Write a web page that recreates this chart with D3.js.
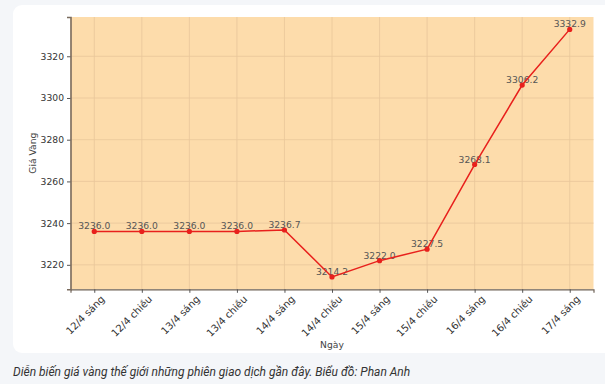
<!DOCTYPE html>
<html>
<head>
<meta charset="utf-8">
<script src="https://cdn.jsdelivr.net/npm/d3@7"></script>
<style>
  html, body { margin: 0; padding: 0; background: #f4f6f9; }
  svg { display: block; }
  .caption { font-family: Roboto, sans-serif; font-style: italic; font-size: 12px; fill: #333; }
  .tick text { font-family: "DejaVu Sans", sans-serif; font-size: 9.2px; fill: #333; }
  .x-axis .tick text { font-size: 10px; }
  .axis-title { font-family: "DejaVu Sans", sans-serif; font-size: 9.2px; fill: #444; }
  .point-label { font-family: "DejaVu Sans", sans-serif; font-size: 9.2px; fill: #555; }
</style>
</head>
<body>
<div id="chart"></div>
<script>
// sessions (x categories) and world gold price
const sessions = ["12/4 sáng", "12/4 chiều", "13/4 sáng", "13/4 chiều", "14/4 sáng", "14/4 chiều",
                  "15/4 sáng", "15/4 chiều", "16/4 sáng", "16/4 chiều", "17/4 sáng"]
const prices = [3236.0, 3236.0, 3236.0, 3236.0, 3236.7, 3214.2, 3222.0, 3227.5, 3268.1, 3306.2, 3332.9]
const yTicks = [3220, 3240, 3260, 3280, 3300, 3320]

const caption = "Diễn biến giá vàng thế giới những phiên giao dịch gần đây. Biểu đồ: Phan Anh"

const width = 605
const height = 384
const plot = {left: 70.5, right: 593.5, top: 17, bottom: 289.3}

const data = sessions.map((s, i) => ({session: s, i: i, value: prices[i]}))

const svg = d3.select("#chart")
  .append("svg")
  .attr("width", width)
  .attr("height", height)

// white card behind the chart
svg.append("rect")
  .attr("x", 13)
  .attr("y", 5)
  .attr("width", 610)
  .attr("height", 348)
  .attr("rx", 9)
  .attr("fill", "#ffffff")

// *************************************
// Scales (5% padding like matplotlib)
// *************************************
const x = d3.scaleLinear()
  .domain([-0.5, sessions.length - 0.5])
  .range([plot.left, plot.right])

const [minV, maxV] = d3.extent(prices)
const pad = (maxV - minV) * 0.05
const y = d3.scaleLinear()
  .domain([minV - pad, maxV + pad])
  .range([plot.bottom, plot.top])

// plot background
svg.append("rect")
  .attr("x", plot.left)
  .attr("y", plot.top)
  .attr("width", plot.right - plot.left)
  .attr("height", plot.bottom - plot.top)
  .attr("fill", "#fddcab")

// grid
const grid = svg.append("g")
grid.selectAll("line.vg")
  .data(d3.range(sessions.length))
  .join("line")
  .attr("x1", d => x(d)).attr("x2", d => x(d))
  .attr("y1", plot.top).attr("y2", plot.bottom)
  .attr("stroke", "#e9c79a")
  .attr("stroke-width", 0.8)
grid.selectAll("line.hg")
  .data(yTicks)
  .join("line")
  .attr("x1", plot.left).attr("x2", plot.right)
  .attr("y1", d => y(d)).attr("y2", d => y(d))
  .attr("stroke", "#e9c79a")
  .attr("stroke-width", 0.8)

// *************************************
// Axes
// *************************************
const xAxis = svg.append("g")
  .attr("class", "x-axis")
  .attr("transform", `translate(0,${plot.bottom})`)
  .call(d3.axisBottom(x)
    .tickValues(d3.range(sessions.length))
    .tickFormat(i => sessions[i])
    .tickSizeOuter(0)
    .tickSize(3.5)
    .tickPadding(4))
xAxis.select(".domain").attr("stroke", "#6e6257").attr("stroke-width", 1.2)
xAxis.selectAll(".tick line").attr("stroke", "#555")
xAxis.selectAll(".tick text")
  .attr("text-anchor", "end")
  .attr("dy", "0.6em")
  .attr("transform", "translate(1,1) rotate(-45)")

const yAxis = svg.append("g")
  .attr("transform", `translate(${plot.left},0)`)
  .call(d3.axisLeft(y)
    .tickValues(yTicks)
    .tickFormat(d3.format("d"))
    .tickSizeOuter(0)
    .tickSize(3.5)
    .tickPadding(3))
yAxis.select(".domain").attr("stroke", "#7a6b5e").attr("stroke-width", 1.6)
yAxis.selectAll(".tick line").attr("stroke", "#555")

svg.append("text")
  .attr("class", "axis-title")
  .attr("x", (plot.left + plot.right) / 2)
  .attr("y", 348)
  .attr("text-anchor", "middle")
  .text("Ngày")

svg.append("text")
  .attr("class", "axis-title")
  .attr("transform", `translate(36,${(plot.top + plot.bottom) / 2}) rotate(-90)`)
  .attr("text-anchor", "middle")
  .text("Giá Vàng")

// *************************************
// Point labels, line and markers
// *************************************
svg.append("g")
  .selectAll("text")
  .data(data)
  .join("text")
  .attr("class", "point-label")
  .attr("x", d => x(d.i))
  .attr("y", d => y(d.value) - 2)
  .attr("text-anchor", "middle")
  .text(d => d.value.toFixed(1))

const line = d3.line()
  .x(d => x(d.i))
  .y(d => y(d.value))

svg.append("path")
  .datum(data)
  .attr("d", line)
  .attr("fill", "none")
  .attr("stroke", "#e8201c")
  .attr("stroke-width", 1.5)

svg.append("g")
  .selectAll("circle")
  .data(data)
  .join("circle")
  .attr("cx", d => x(d.i))
  .attr("cy", d => y(d.value))
  .attr("r", 2.6)
  .attr("fill", "#e8201c")

// caption
svg.append("text")
  .attr("class", "caption")
  .attr("x", 13)
  .attr("y", 376)
  .text(caption)
</script>
</body>
</html>
